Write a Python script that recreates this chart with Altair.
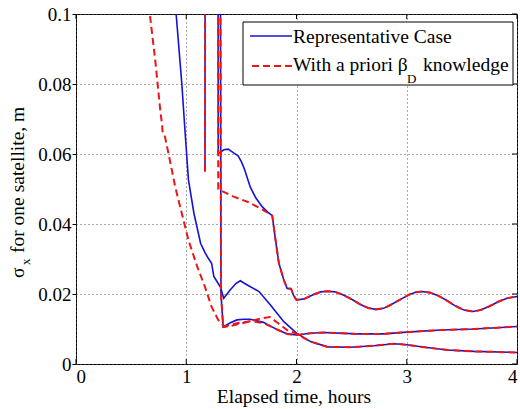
import altair as alt
import pandas as pd

# ---------------- data ----------------
x_ticks = [0, 1, 2, 3, 4]
y_ticks = [0, 0.02, 0.04, 0.06, 0.08, 0.1]
x_title = "Elapsed time, hours"
y_title_parts = ["σ", "x", "for one satellite, m"]
legend_labels = ["Representative Case", "With a priori β", "D", "knowledge"]

# curve A (upper) - head parts differ, tail after 2 h shared
tA_blue = [1.17, 1.175, 1.285, 1.29, 1.31, 1.34, 1.38, 1.43, 1.47, 1.50, 1.53, 1.58, 1.63, 1.69, 1.74, 1.78]
sA_blue = [0.055, 0.30, 0.30, 0.0603, 0.0605, 0.0612, 0.0614, 0.0603, 0.0595, 0.0578, 0.0555, 0.0506, 0.0475, 0.0449, 0.0434, 0.0424]
tA_red = [1.17, 1.175, 1.285, 1.29, 1.33, 1.43, 1.56, 1.67, 1.78]
sA_red = [0.055, 0.30, 0.30, 0.0500, 0.0493, 0.0478, 0.0463, 0.0445, 0.0424]
tA_tail = [1.81, 1.84, 1.885, 1.915, 1.95, 1.975, 2.0, 2.07, 2.15, 2.22, 2.28, 2.35, 2.42, 2.50, 2.58, 2.65,
           2.72, 2.79, 2.86, 2.94, 3.02, 3.08, 3.14, 3.21, 3.28, 3.36, 3.44, 3.52, 3.60, 3.67, 3.75, 3.83, 3.91, 4.0]
sA_tail = [0.0354, 0.0288, 0.0240, 0.0216, 0.0215, 0.0195, 0.0183, 0.0186, 0.0198, 0.0206, 0.0208, 0.0206,
           0.0198, 0.0185, 0.0170, 0.0160, 0.0156, 0.0159, 0.0170, 0.0184, 0.0198, 0.0205, 0.0207, 0.0204,
           0.0196, 0.0182, 0.0166, 0.0154, 0.0150, 0.0154, 0.0165, 0.0178, 0.0188, 0.0193]

# curve B (first satellite, lowest at the end)
tB_blue = [0.895, 0.909, 0.96, 0.99, 1.02, 1.07, 1.13, 1.17, 1.20, 1.23, 1.25, 1.28, 1.31, 1.34, 1.40, 1.45,
           1.49, 1.53, 1.57, 1.66, 1.76, 1.885, 2.0]
sB_blue = [0.106, 0.0997, 0.080, 0.066, 0.0526, 0.043, 0.0345, 0.0318, 0.0302, 0.0288, 0.0250, 0.0235, 0.0220,
           0.0188, 0.0212, 0.0230, 0.0238, 0.0230, 0.0223, 0.0207, 0.0170, 0.0121, 0.0088]
tB_red = [0.66, 0.673, 0.718, 0.764, 0.78, 0.785, 0.80, 0.84, 0.90, 0.96, 1.02, 1.10, 1.17, 1.23, 1.29, 1.35,
          1.42, 1.50, 1.60, 1.68, 1.76, 1.84, 1.915, 2.0]
sB_red = [0.112, 0.099, 0.087, 0.0726, 0.0685, 0.0665, 0.0660, 0.0600, 0.0506, 0.0430, 0.0354, 0.0278, 0.0220,
          0.0163, 0.0126, 0.0106, 0.0110, 0.0116, 0.0124, 0.0130, 0.0134, 0.0115, 0.0097, 0.0086]
tB_tail = [2.127, 2.28, 2.49, 2.70, 2.885, 3.0, 3.16, 3.37, 3.61, 4.0]
sB_tail = [0.0064, 0.0049, 0.0048, 0.0052, 0.0058, 0.0055, 0.0048, 0.0040, 0.0036, 0.0033]

# curve C (middle at the end)
tC_blue = [1.30, 1.315, 1.335, 1.40, 1.46, 1.52, 1.58, 1.70, 1.82, 1.915, 2.0]
sC_blue = [0.30, 0.020, 0.0106, 0.0118, 0.0126, 0.0128, 0.0128, 0.0119, 0.0099, 0.0086, 0.0083]
tC_red = [1.30, 1.315, 1.335, 1.40, 1.48, 1.58, 1.70, 1.82, 1.915, 2.0]
sC_red = [0.30, 0.020, 0.0106, 0.0112, 0.0118, 0.0122, 0.0117, 0.0099, 0.0086, 0.0083]
tC_tail = [2.127, 2.25, 2.55, 2.79, 3.0, 3.31, 3.61, 4.0]
sC_tail = [0.0088, 0.0090, 0.0086, 0.0086, 0.0091, 0.0097, 0.0100, 0.0107]


def curve(name, t_head, s_head, t_tail, s_tail):
    t = list(t_head) + list(t_tail)
    s = list(s_head) + list(s_tail)
    return pd.DataFrame({"t": t, "s": s, "curve": name, "i": range(len(t))})


blue_df = pd.concat([
    curve("A", tA_blue, sA_blue, tA_tail, sA_tail),
    curve("B", tB_blue, sB_blue, tB_tail, sB_tail),
    curve("C", tC_blue, sC_blue, tC_tail, sC_tail),
])
red_df = pd.concat([
    curve("A", tA_red, sA_red, tA_tail, sA_tail),
    curve("B", tB_red, sB_red, tB_tail, sB_tail),
    curve("C", tC_red, sC_red, tC_tail, sC_tail),
])

# ---------------- styling ----------------
W, H = 441, 350
FONT = "Liberation Serif"
BLUE = "#1414d4"
RED = "#ee1515"

xs = alt.Scale(domain=[0, 4], nice=False, zero=False)
ys = alt.Scale(domain=[0, 0.1], nice=False)

x_enc = alt.X("t:Q", scale=xs, axis=alt.Axis(values=x_ticks, format="d", title=None, ticks=False,
                                              labelPadding=3, grid=True))
y_enc = alt.Y("s:Q", scale=ys, axis=alt.Axis(values=y_ticks, format="~g", title=None, tickSize=4,
                                              labelPadding=1, grid=True))

blue = alt.Chart(blue_df).mark_line(color=BLUE, strokeWidth=1.6, clip=True).encode(
    x=x_enc, y=y_enc, detail="curve:N", order="i:Q")
red = alt.Chart(red_df).mark_line(color=RED, strokeWidth=2, strokeDash=[7, 4], clip=True).encode(
    x="t:Q", y="s:Q", detail="curve:N", order="i:Q")

xt = pd.DataFrame({"v": x_ticks})
yt = pd.DataFrame({"v": y_ticks})
tick_bot = alt.Chart(xt).mark_rule(color="#000", strokeWidth=1).encode(
    x=alt.X("v:Q", scale=xs), y=alt.value(H - 5), y2=alt.value(H))
tick_top = alt.Chart(xt).mark_rule(color="#000", strokeWidth=1).encode(
    x=alt.X("v:Q", scale=xs), y=alt.value(0), y2=alt.value(5))
tick_right = alt.Chart(yt).mark_rule(color="#000", strokeWidth=1).encode(
    y=alt.Y("v:Q", scale=ys), x=alt.value(W - 5), x2=alt.value(W))

# axis titles as text (to allow the subscript)
xtitle = alt.Chart(pd.DataFrame({"txt": [x_title]})).mark_text(
    font=FONT, fontSize=19.5, align="center", baseline="alphabetic", color="#000").encode(
    text="txt:N", x=alt.value(218), y=alt.value(389))
yt_df = pd.DataFrame({"txt": y_title_parts, "px": [-52, -46, -52], "py": [264, 251, 239],
                      "fs": [19.5, 13, 19.5]})
ytitle = alt.Chart(yt_df).mark_text(font=FONT, angle=270, align="left", baseline="alphabetic",
                                    color="#000").encode(
    text="txt:N", x=alt.X("px:Q", scale=None), y=alt.Y("py:Q", scale=None),
    size=alt.Size("fs:Q", scale=None, legend=None))

# legend
leg_box = alt.Chart(pd.DataFrame({"k": [0]})).mark_rect(fill="white", stroke="#000", strokeWidth=1).encode(
    x=alt.value(167), x2=alt.value(437), y=alt.value(8), y2=alt.value(71))
leg_blue = alt.Chart(pd.DataFrame({"k": [0]})).mark_rule(color=BLUE, strokeWidth=1.6).encode(
    x=alt.value(174), x2=alt.value(216), y=alt.value(22))
leg_red = alt.Chart(pd.DataFrame({"k": [0]})).mark_rule(color=RED, strokeWidth=2, strokeDash=[7, 4]).encode(
    x=alt.value(176), x2=alt.value(216), y=alt.value(52))
leg_df = pd.DataFrame({"txt": legend_labels, "px": [217, 217, 331, 347], "py": [29, 57, 69, 57],
                       "fs": [19.5, 19.5, 13, 19.5]})
leg_txt = alt.Chart(leg_df).mark_text(font=FONT, align="left", baseline="alphabetic", color="#000").encode(
    text="txt:N", x=alt.X("px:Q", scale=None), y=alt.Y("py:Q", scale=None),
    size=alt.Size("fs:Q", scale=None, legend=None))

chart = alt.layer(
    blue, red, tick_bot, tick_top, tick_right, xtitle, ytitle, leg_box, leg_blue, leg_red, leg_txt
).resolve_scale(size="independent").properties(
    width=W, height=H, autosize=alt.AutoSizeParams(type="none"),
    padding={"left": 76, "top": 14, "right": 3, "bottom": 45},
    background="white",
).configure_view(stroke="#000", strokeWidth=1).configure_axis(
    labelFont=FONT, labelFontSize=19, labelColor="#000", domain=False,
    gridColor="#555", gridDash=[1, 3], gridOpacity=1, gridWidth=1,
    tickColor="#000",
)

chart.save("out.html", embed_options={"renderer": "svg", "actions": False})
